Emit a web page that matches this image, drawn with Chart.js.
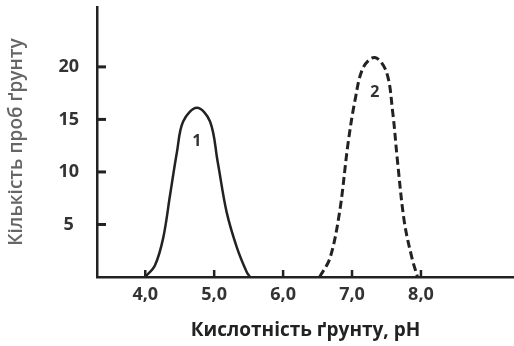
<!DOCTYPE html>
<html>
<head>
<meta charset="utf-8">
<script src="https://cdn.jsdelivr.net/npm/chart.js@4"></script>
<style>
  body { margin: 0; background: #fff; }
  #wrap { width: 514px; height: 346px; }
</style>
</head>
<body>
<div id="wrap"><canvas id="phChart"></canvas></div>
<script>
// curve 1 - solid, curve 2 - dashed
const phCurve1 = [4.0, 4.14, 4.26, 4.36, 4.46, 4.55, 4.75, 4.94, 5.05, 5.18, 5.33, 5.47, 5.52];
const samplesCurve1 = [0, 1.1, 3.7, 7.8, 11.9, 14.8, 16.1, 14.8, 11.0, 6.2, 2.8, 0.5, 0];
const phCurve2 = [6.53, 6.68, 6.82, 6.94, 7.04, 7.16, 7.33, 7.5, 7.59, 7.66, 7.76, 7.87, 7.95];
const samplesCurve2 = [0, 1.8, 6.2, 12.6, 16.7, 19.9, 20.9, 19.5, 15.7, 11.0, 5.2, 1.8, 0];

const xTickValues = [4, 5, 6, 7, 8];
const xTickLabels = ["4,0", "5,0", "6,0", "7,0", "8,0"];
const yTickValues = [5, 10, 15, 20];

const curveNames = ["1", "2"];
const curveLabelPos = [[4.75, 12.9], [7.33, 17.6]];

const ink = "#222";
const font = "'Open Sans', sans-serif";

const toPoints = (xs, ys) => xs.map((x, i) => ({ x: x, y: ys[i] }));

// ticks in the original point inward, so draw them ourselves
const innerTicks = {
  id: "innerTicks",
  afterDraw(chart) {
    const { ctx, chartArea, scales } = chart;
    ctx.save();
    ctx.strokeStyle = ink;
    ctx.lineWidth = 3;
    yTickValues.forEach(v => {
      const y = scales.y.getPixelForValue(v);
      ctx.beginPath();
      ctx.moveTo(chartArea.left, y);
      ctx.lineTo(chartArea.left + 9, y);
      ctx.stroke();
    });
    ctx.lineWidth = 2.5;
    xTickValues.forEach(v => {
      const x = scales.x.getPixelForValue(v);
      ctx.beginPath();
      ctx.moveTo(x, chartArea.bottom);
      ctx.lineTo(x, chartArea.bottom - 7);
      ctx.stroke();
    });
    ctx.fillStyle = "#333";
    ctx.font = "700 16px " + font;
    ctx.textAlign = "center";
    ctx.textBaseline = "middle";
    curveNames.forEach((name, i) => {
      const p = curveLabelPos[i];
      ctx.fillText(name, scales.x.getPixelForValue(p[0]), scales.y.getPixelForValue(p[1]));
    });
    ctx.restore();
  }
};

new Chart(document.getElementById("phChart"), {
  type: "line",
  data: {
    datasets: [
      {
        data: toPoints(phCurve1, samplesCurve1),
        borderColor: ink,
        borderWidth: 2.5,
        pointRadius: 0,
        tension: 0.35,
      },
      {
        data: toPoints(phCurve2, samplesCurve2),
        borderColor: ink,
        borderWidth: 3,
        borderDash: [8, 4],
        pointRadius: 0,
        tension: 0.35,
      },
    ],
  },
  options: {
    responsive: true,
    maintainAspectRatio: false,
    animation: false,
    layout: { padding: { top: 7, right: 0, left: 0, bottom: 0 } },
    plugins: { legend: { display: false }, tooltip: { enabled: false } },
    scales: {
      x: {
        type: "linear",
        min: 3.3,
        max: 9.35,
        afterBuildTicks: scale => {
          scale.ticks = xTickValues.map(v => ({ value: v }));
        },
        afterFit: scale => {
          scale.height = 69;
          scale.paddingLeft = 0;
          scale.paddingRight = 0;
        },
        ticks: {
          padding: 7,
          color: "#333",
          font: { family: font, size: 18, weight: 700 },
          callback: value => xTickLabels[xTickValues.indexOf(value)],
        },
        grid: { display: false, drawTicks: false },
        border: { display: true, color: ink, width: 2.5 },
        title: {
          display: true,
          text: "Кислотність ґрунту, рН",
          color: ink,
          font: { family: font, size: 19, weight: 700 },
          padding: { top: 0, bottom: 4 },
        },
      },
      y: {
        min: 0,
        max: 25.7,
        afterBuildTicks: scale => {
          scale.ticks = yTickValues.map(v => ({ value: v }));
        },
        afterFit: scale => {
          scale.width = 97;
          scale.paddingTop = 0;
          scale.paddingBottom = 0;
        },
        ticks: {
          padding: 18,
          crossAlign: "center",
          color: "#333",
          font: { family: font, size: 18, weight: 700 },
        },
        grid: { display: false, drawTicks: false },
        border: { display: true, color: ink, width: 2.5 },
        title: {
          display: true,
          text: "Кількість проб ґрунту",
          color: "#666",
          font: { family: font, size: 19, weight: 600 },
          padding: { top: 5, bottom: 0 },
        },
      },
    },
  },
  plugins: [innerTicks],
});
</script>
</body>
</html>
